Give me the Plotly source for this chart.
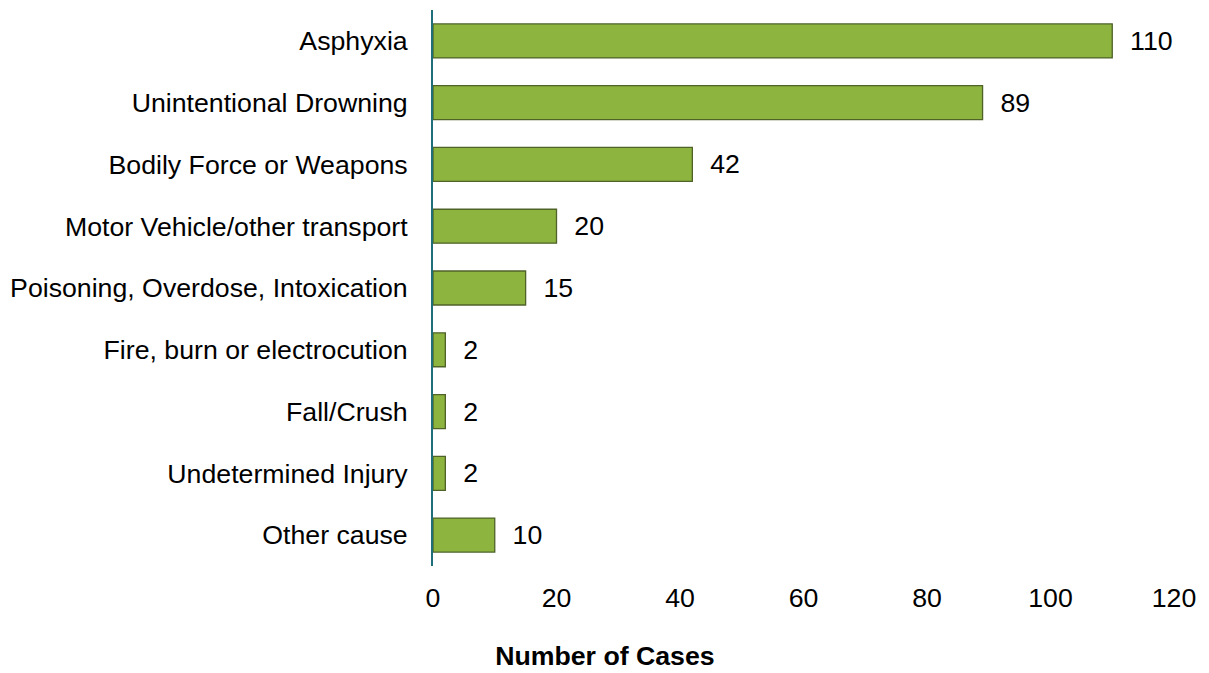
import plotly.graph_objects as go

categories = ["Asphyxia", "Unintentional Drowning", "Bodily Force or Weapons",
              "Motor Vehicle/other transport", "Poisoning, Overdose, Intoxication",
              "Fire, burn or electrocution", "Fall/Crush", "Undetermined Injury", "Other cause"]
values = [110, 89, 42, 20, 15, 2, 2, 2, 10]
x_ticks = [0, 20, 40, 60, 80, 100, 120]

font_family = "Liberation Sans, Arial, sans-serif"
fs = 26.7

fig = go.Figure(go.Bar(
    x=values, y=categories, orientation="h",
    marker=dict(color="#8DB43F", line=dict(color="#4F6228", width=1.3)),
    text=values, texttemplate="\u00a0\u00a0%{x}", textposition="outside",
    textfont=dict(size=fs, color="#000000", family=font_family),
    cliponaxis=False,
))

fig.update_layout(
    width=1201, height=665,
    margin=dict(l=417, r=35, t=2, b=107),
    paper_bgcolor="white", plot_bgcolor="white",
    bargap=0.45, showlegend=False,
    font=dict(family=font_family, size=fs, color="#000000"),
    title=dict(text="<b>Number of Cases</b>", font=dict(size=fs),
               xref="container", yref="container", x=0.497, y=0.026,
               xanchor="center", yanchor="middle"),
    xaxis=dict(range=[0, 120], tickvals=x_ticks, showgrid=False, zeroline=False,
               showline=False, ticks="", ticklabelstandoff=13,
               tickfont=dict(size=fs)),
    yaxis=dict(categoryorder="array", categoryarray=categories[::-1],
               autorange=False, range=[-0.5, len(categories) - 0.5],
               showgrid=False, zeroline=False, showline=True,
               linecolor="#1F6E7A", linewidth=2, ticks="", ticklabelstandoff=18,
               tickfont=dict(size=fs)),
)

fig.write_html("out.html")
